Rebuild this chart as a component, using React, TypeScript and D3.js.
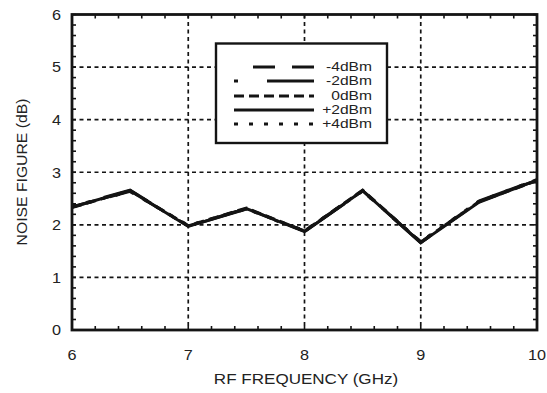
import React from "react";
import * as d3 from "d3";

const freqs = [6, 6.5, 7, 7.5, 8, 8.5, 9, 9.5, 10];
const seriesNames = ["-4dBm", "-2dBm", "0dBm", "+2dBm", "+4dBm"];
const nfM4 = [2.34, 2.64, 1.98, 2.31, 1.88, 2.65, 1.67, 2.44, 2.85];
const nfM2 = [2.35, 2.66, 1.97, 2.30, 1.87, 2.64, 1.66, 2.45, 2.86];
const nf0 = [2.33, 2.65, 1.98, 2.32, 1.88, 2.66, 1.67, 2.44, 2.84];
const nfP2 = [2.34, 2.65, 1.97, 2.31, 1.87, 2.65, 1.66, 2.43, 2.85];
const nfP4 = [2.36, 2.63, 1.99, 2.30, 1.89, 2.64, 1.68, 2.45, 2.86];
const xTicks = [6, 7, 8, 9, 10];
const yTicks = [0, 1, 2, 3, 4, 5, 6];
const dashes = ["22 17", "4 29 48 29", "10 5", "", "4 11"];

export default function App() {
  const W = 547, H = 393;
  const L = 72, R = 537, T = 14.5, B = 330;
  const x = d3.scaleLinear().domain([6, 10]).range([L, R]);
  const y = d3.scaleLinear().domain([0, 6]).range([B, T]);
  const allSeries = [nfM4, nfM2, nf0, nfP2, nfP4];
  const line = d3
    .line<number>()
    .x((_, i) => x(freqs[i]))
    .y((d) => y(d));
  const minorX = d3.range(6, 10.001, 0.2);
  const minorY = d3.range(0, 6.001, 0.2);
  const font = "Liberation Sans, Arial, sans-serif";
  const col = "#141414";
  const tcol = "#222";
  const legX1 = 234, legX2 = 314;
  const legYs = [67, 81, 96, 110, 124];
  return (
    <svg width={W} height={H} style={{ position: "absolute", left: 0, top: 0, background: "#fff" }}>
      {/* grid */}
      {xTicks.slice(1, -1).map((t) => (
        <line key={"gx" + t} x1={x(t)} x2={x(t)} y1={T} y2={B} stroke={col} strokeWidth={1.7} strokeDasharray="4 3.5" />
      ))}
      {yTicks.slice(1, -1).map((t) => (
        <line key={"gy" + t} x1={L} x2={R} y1={y(t)} y2={y(t)} stroke={col} strokeWidth={1.7} strokeDasharray="4 3.5" />
      ))}
      {/* minor ticks */}
      {minorX.map((t, i) => (
        <g key={"mx" + i}>
          <line x1={x(t)} x2={x(t)} y1={B} y2={B - 4} stroke={col} strokeWidth={1.6} />
          <line x1={x(t)} x2={x(t)} y1={T} y2={T + 4} stroke={col} strokeWidth={1.6} />
        </g>
      ))}
      {minorY.map((t, i) => (
        <g key={"my" + i}>
          <line x1={L} x2={L + 4} y1={y(t)} y2={y(t)} stroke={col} strokeWidth={1.6} />
          <line x1={R} x2={R - 4} y1={y(t)} y2={y(t)} stroke={col} strokeWidth={1.6} />
        </g>
      ))}
      {/* data */}
      {allSeries.map((s, i) => (
        <path key={"s" + i} d={line(s) || ""} fill="none" stroke={col} strokeWidth={3} strokeDasharray={dashes[i] || undefined} strokeLinejoin="miter" />
      ))}
      {/* legend */}
      <rect x={216} y={43.5} width={171} height={99.5} fill="#fff" stroke={col} strokeWidth={2.4} />
      {seriesNames.map((n, i) => (
        <g key={"l" + i}>
          <line
            x1={i === 0 ? 253 : legX1}
            x2={legX2}
            y1={legYs[i]}
            y2={legYs[i]}
            stroke={col}
            strokeWidth={3}
            strokeDasharray={dashes[i] || undefined}
          />
          <g transform={`translate(372,${legYs[i]}) scale(1.3,1)`}>
            <text x={0} y={0} dy="0.35em" textAnchor="end" fontSize={12} fontFamily={font} fill={tcol}>
              {n}
            </text>
          </g>
        </g>
      ))}
      {/* frame */}
      <rect x={L} y={T} width={R - L} height={B - T} fill="none" stroke={col} strokeWidth={2.8} />
      {/* tick labels */}
      {xTicks.map((t) => (
        <g key={"xl" + t} transform={`translate(${x(t)},360) scale(1.08,1)`}>
          <text x={0} y={0} textAnchor="middle" fontSize={15} fontFamily={font} fill={tcol}>
            {t}
          </text>
        </g>
      ))}
      {yTicks.map((t) => (
        <g key={"yl" + t} transform={`translate(61,${y(t)}) scale(1.08,1)`}>
          <text x={0} y={0} dy="0.35em" textAnchor="end" fontSize={15} fontFamily={font} fill={tcol}>
            {t}
          </text>
        </g>
      ))}
      <g transform="translate(306,384) scale(1.1,1)">
        <text x={0} y={0} textAnchor="middle" fontSize={15.5} fontFamily={font} fill={tcol}>
          RF FREQUENCY (GHz)
        </text>
      </g>
      <g transform="translate(27,172) rotate(-90) scale(1.05,1)">
        <text x={0} y={0} textAnchor="middle" fontSize={15} fontFamily={font} fill={tcol}>
          NOISE FIGURE (dB)
        </text>
      </g>
    </svg>
  );
}
